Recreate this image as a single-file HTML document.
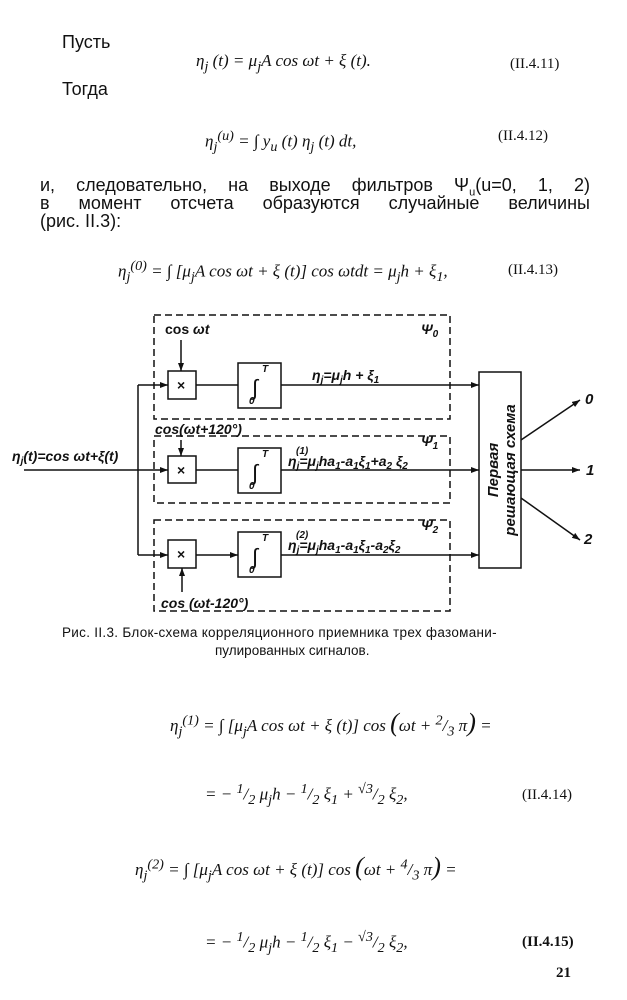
<!DOCTYPE html>
<html><head><meta charset="utf-8"><style>
body{margin:0;width:627px;height:1000px;background:#fff;position:relative;overflow:hidden;font-family:"Liberation Serif",serif;color:#111}
.t{position:absolute;white-space:nowrap}
.b{font-size:20px}
.j{position:absolute;width:550px;font-size:20px;text-align:justify;text-align-last:justify;white-space:nowrap;font-family:"Liberation Sans",sans-serif;font-size:18px}
.m{font-size:17px;font-style:italic}
.n{font-size:15px}
</style></head><body>
<div class="t b" style="left:62px;top:32px;font-family:'Liberation Sans',sans-serif;font-size:18px">Пусть</div>
<div class="t m" style="left:196px;top:51px">η<sub>j</sub> (t) = μ<sub>j</sub>A cos ωt + ξ (t).</div>
<div class="t n" style="left:510px;top:56px">(II.4.11)</div>
<div class="t b" style="left:62px;top:79px;font-family:'Liberation Sans',sans-serif;font-size:18px">Тогда</div>
<div class="t m" style="left:205px;top:128px">η<sub>j</sub><sup>(u)</sup> = ∫ y<sub>u</sub> (t) η<sub>j</sub> (t) dt,</div>
<div class="t n" style="left:498px;top:128px">(II.4.12)</div>
<div class="j" style="left:40px;top:175px">и, следовательно, на выходе фильтров Ψ<sub style="font-size:11px">u</sub>(u=0, 1, 2)</div>
<div class="j" style="left:40px;top:193px">в момент отсчета образуются случайные величины</div>
<div class="t" style="left:40px;top:211px;font-family:'Liberation Sans',sans-serif;font-size:18px">(рис. II.3):</div>
<div class="t m" style="left:118px;top:258px">η<sub>j</sub><sup>(0)</sup> = ∫ [μ<sub>j</sub>A cos ωt + ξ (t)] cos ωtdt = μ<sub>j</sub>h + ξ<sub>1</sub>,</div>
<div class="t n" style="left:508px;top:262px">(II.4.13)</div>

<svg style="position:absolute;left:0;top:0" width="627" height="1000" font-family="Liberation Sans, sans-serif" font-style="italic" font-size="14">
<defs><marker id="a" markerWidth="8" markerHeight="6" refX="8" refY="3" orient="auto" markerUnits="userSpaceOnUse"><path d="M0,0L8,3L0,6z" fill="#111"/></marker></defs>
<g fill="none" stroke="#111" stroke-width="1.5">
<g stroke-dasharray="7,4">
<rect x="154" y="315" width="296" height="104"/>
<rect x="154" y="436" width="296" height="67"/>
<rect x="154" y="520" width="296" height="91"/>
</g>
<rect x="168" y="371" width="28" height="28"/>
<rect x="168" y="456" width="28" height="27"/>
<rect x="168" y="540" width="28" height="28"/>
<rect x="238" y="363" width="43" height="45"/>
<rect x="238" y="448" width="43" height="45"/>
<rect x="238" y="532" width="43" height="45"/>
<rect x="479" y="372" width="42" height="196"/>
<path d="M138,385V555"/>
<path d="M24,470H168" marker-end="url(#a)"/>
<path d="M138,385H168" marker-end="url(#a)"/>
<path d="M138,555H168" marker-end="url(#a)"/>
<path d="M196,385H238M196,470H238M196,555H238" marker-end="url(#a)"/>
<path d="M281,385H479" marker-end="url(#a)"/>
<path d="M281,470H479" marker-end="url(#a)"/>
<path d="M281,555H479" marker-end="url(#a)"/>
<path d="M181,340V371" marker-end="url(#a)"/>
<path d="M181,440V456" marker-end="url(#a)"/>
<path d="M182,592V568" marker-end="url(#a)"/>
<path d="M521,440L580,400" marker-end="url(#a)"/>
<path d="M521,470H580" marker-end="url(#a)"/>
<path d="M521,498L580,540" marker-end="url(#a)"/>
</g>
<g fill="#111" font-weight="bold">
<text x="165" y="334" font-style="normal">cos <tspan font-style="italic">ωt</tspan></text>
<text x="155" y="434">cos(ωt+120°)</text>
<text x="161" y="608">cos (ωt-120°)</text>
<text x="12" y="461">η<tspan font-size="10" dy="3">j</tspan><tspan dy="-3">(t)=cos ωt+ξ(t)</tspan></text>
<text x="312" y="380">η<tspan font-size="10" dy="3">j</tspan><tspan dy="-3">=μ</tspan><tspan font-size="10" dy="3">j</tspan><tspan dy="-3">h + ξ</tspan><tspan font-size="10" dy="3">1</tspan></text>
<text x="288" y="466">η<tspan font-size="10" dy="3">j</tspan><tspan dy="-3">=μ</tspan><tspan font-size="10" dy="3">j</tspan><tspan dy="-3">ha</tspan><tspan font-size="10" dy="3">1</tspan><tspan dy="-3">-a</tspan><tspan font-size="10" dy="3">1</tspan><tspan dy="-3">ξ</tspan><tspan font-size="10" dy="3">1</tspan><tspan dy="-3">+a</tspan><tspan font-size="10" dy="3">2</tspan><tspan dy="-3"> ξ</tspan><tspan font-size="10" dy="3">2</tspan></text>
<text x="288" y="550">η<tspan font-size="10" dy="3">j</tspan><tspan dy="-3">=μ</tspan><tspan font-size="10" dy="3">j</tspan><tspan dy="-3">ha</tspan><tspan font-size="10" dy="3">1</tspan><tspan dy="-3">-a</tspan><tspan font-size="10" dy="3">1</tspan><tspan dy="-3">ξ</tspan><tspan font-size="10" dy="3">1</tspan><tspan dy="-3">-a</tspan><tspan font-size="10" dy="3">2</tspan><tspan dy="-3">ξ</tspan><tspan font-size="10" dy="3">2</tspan></text>
<text x="296" y="454" font-size="10">(1)</text><text x="296" y="538" font-size="10">(2)</text>
<text x="421" y="334">Ψ<tspan font-size="10" dy="3">0</tspan></text>
<text x="421" y="446">Ψ<tspan font-size="10" dy="3">1</tspan></text>
<text x="421" y="530">Ψ<tspan font-size="10" dy="3">2</tspan></text>
<text x="177" y="390" font-style="normal">×</text><text x="177" y="475" font-style="normal">×</text><text x="177" y="559" font-style="normal">×</text>
<g font-size="22" font-weight="normal"><text x="252" y="395">∫</text><text x="252" y="480">∫</text><text x="252" y="564">∫</text></g>
<g font-size="10"><text x="262" y="372">T</text><text x="249" y="404">0</text><text x="262" y="457">T</text><text x="249" y="489">0</text><text x="262" y="541">T</text><text x="249" y="573">0</text></g>
<text transform="translate(498,470) rotate(-90)" text-anchor="middle" font-size="15">Первая</text>
<text transform="translate(515,470) rotate(-90)" text-anchor="middle" font-size="15">решающая схема</text>
<text x="585" y="404" font-size="15">0</text><text x="586" y="475" font-size="15">1</text><text x="584" y="544" font-size="15">2</text>
</g>
</svg>

<div class="t" style="left:62px;top:625px;font-family:'Liberation Sans',sans-serif;font-size:13.5px;letter-spacing:0.3px">Рис. II.3. Блок-схема корреляционного приемника трех фазомани-</div>
<div class="t" style="left:215px;top:643px;font-family:'Liberation Sans',sans-serif;font-size:13.5px">пулированных сигналов.</div>

<div class="t m" style="left:170px;top:708px">η<sub>j</sub><sup>(1)</sup> = ∫ [μ<sub>j</sub>A cos ωt + ξ (t)] cos <span style="font-size:26px">(</span>ωt + <sup>2</sup>/<sub>3</sub> π<span style="font-size:26px">)</span> =</div>
<div class="t m" style="left:205px;top:781px">= − <sup>1</sup>/<sub>2</sub> μ<sub>j</sub>h − <sup>1</sup>/<sub>2</sub> ξ<sub>1</sub> + <sup>√3</sup>/<sub>2</sub> ξ<sub>2</sub>,</div>
<div class="t n" style="left:522px;top:787px">(II.4.14)</div>
<div class="t m" style="left:135px;top:852px">η<sub>j</sub><sup>(2)</sup> = ∫ [μ<sub>j</sub>A cos ωt + ξ (t)] cos <span style="font-size:26px">(</span>ωt + <sup>4</sup>/<sub>3</sub> π<span style="font-size:26px">)</span> =</div>
<div class="t m" style="left:205px;top:929px">= − <sup>1</sup>/<sub>2</sub> μ<sub>j</sub>h − <sup>1</sup>/<sub>2</sub> ξ<sub>1</sub> − <sup>√3</sup>/<sub>2</sub> ξ<sub>2</sub>,</div>
<div class="t n" style="left:522px;top:934px;font-weight:bold">(II.4.15)</div>
<div class="t n" style="left:556px;top:965px;font-weight:bold">21</div>
</body></html>
